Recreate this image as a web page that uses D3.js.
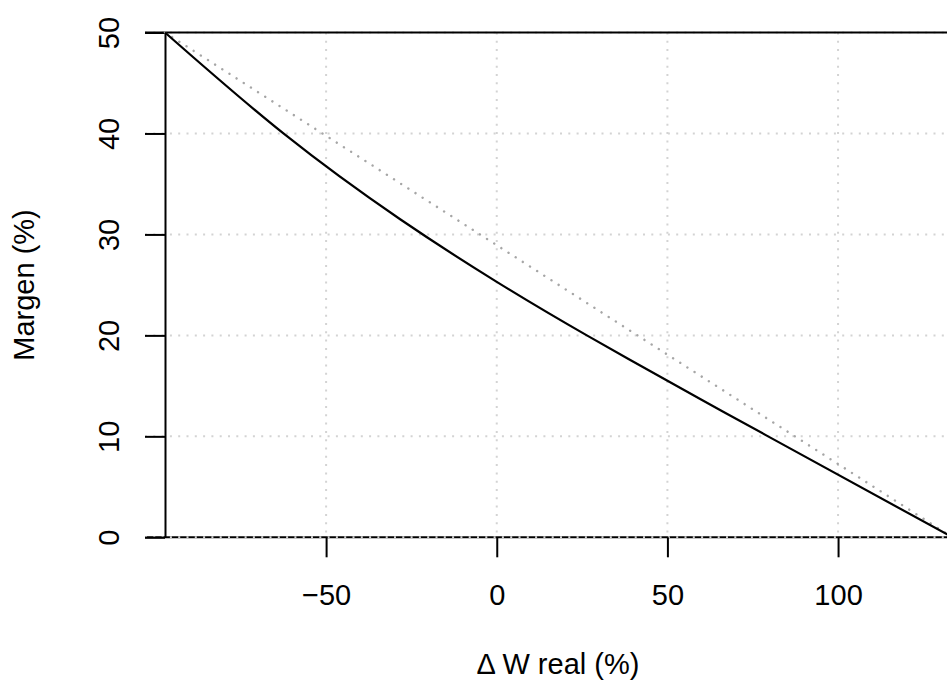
<!DOCTYPE html>
<html>
<head>
<meta charset="utf-8">
<script src="https://cdn.jsdelivr.net/npm/d3@7"></script>
<style>
  body { margin: 0; background: #fff; }
  svg { display: block; font-family: "Liberation Sans", Arial, Helvetica, sans-serif; }
  .axis text { font-size: 29px; fill: #000; }
  .axis line, .axis path { stroke: #000; stroke-width: 2; }
</style>
</head>
<body>
<svg id="chart"></svg>
<script>
// Values
const deltaW = [-97.2, -62.5, -28.3, 0, 26.4, 59.6, 79.5, 133.5];
const margen = [50, 40, 31.5, 25.3, 20, 13.7, 10, 0];

// straight reference line between the two end points
const refW = [-97.2, 133.5];
const refM = [50, 0];

const xTicks = [-50, 0, 50, 100];
const yTicks = [0, 10, 20, 30, 40, 50];
const hLinesBelow = [0];
const hLinesAbove = [50];

const xLabel = "\u0394 W real (%)";
const yLabel = "Margen (%)";

class MarginChart {

  constructor(_config) {
    this.config = {
      parentElement: _config.parentElement,
      containerWidth: _config.containerWidth || 947,
      containerHeight: _config.containerHeight || 681,
      margin: _config.margin || {top: 32.5, left: 165, bottom: 143.7},
      width: _config.width || 787.4
    };
    this.initVis();
  }

  initVis() {
    let vis = this;
    vis.height = vis.config.containerHeight - vis.config.margin.top - vis.config.margin.bottom;
    vis.width = vis.config.width;

    vis.xScale = d3.scaleLinear()
      .domain([refW[0], refW[1]])
      .range([0, vis.width]);

    vis.yScale = d3.scaleLinear()
      .domain([0, 50])
      .range([vis.height, 0]);

    vis.svg = d3.select(vis.config.parentElement)
      .attr('width', vis.config.containerWidth)
      .attr('height', vis.config.containerHeight);

    vis.chart = vis.svg.append('g')
      .attr('transform', `translate(${vis.config.margin.left},${vis.config.margin.top})`);
  }

  // black horizontal lines across the plot region
  drawHLines(values, cls) {
    let vis = this;
    vis.chart.selectAll('.' + cls)
      .data(values)
      .join('line')
      .attr('class', cls)
      .attr('x1', -20)
      .attr('x2', vis.config.containerWidth)
      .attr('y1', d => vis.yScale(d))
      .attr('y2', d => vis.yScale(d))
      .attr('stroke', '#000')
      .attr('stroke-width', 2);
  }

  renderVis() {
    let vis = this;
    const x = vis.xScale, y = vis.yScale;

    vis.drawHLines(hLinesBelow, 'hline-below');

    // dotted grid
    vis.chart.selectAll('.hgrid')
      .data(yTicks)
      .join('line')
      .attr('class', 'hgrid')
      .attr('x1', -20)
      .attr('x2', vis.config.containerWidth)
      .attr('y1', d => y(d))
      .attr('y2', d => y(d))
      .attr('stroke', '#d3d3d3')
      .attr('stroke-width', 2)
      .attr('stroke-dasharray', '2,6.3');

    vis.chart.selectAll('.vgrid')
      .data(xTicks)
      .join('line')
      .attr('class', 'vgrid')
      .attr('x1', d => x(d))
      .attr('x2', d => x(d))
      .attr('y1', y(50))
      .attr('y2', y(0))
      .attr('stroke', '#d3d3d3')
      .attr('stroke-width', 2)
      .attr('stroke-dasharray', '2,6.3');

    vis.drawHLines(hLinesAbove, 'hline-above');

    // y axis at the left end of the data
    const yAxisG = vis.chart.append('g')
      .attr('class', 'axis y-axis')
      .call(d3.axisLeft(y).tickValues(yTicks).tickSize(20).tickSizeOuter(0));
    yAxisG.selectAll('text')
      .attr('x', null)
      .attr('dy', null)
      .attr('text-anchor', 'middle')
      .attr('transform', 'translate(-46,0) rotate(-90)');

    // x axis, ticks only (line drawn by the h=0 line)
    const xAxisG = vis.chart.append('g')
      .attr('class', 'axis x-axis')
      .attr('transform', `translate(0,${vis.height})`)
      .call(d3.axisBottom(x).tickValues(xTicks).tickSize(20).tickPadding(27.5));
    xAxisG.select('.domain').remove();

    const line = d3.line()
      .x(d => x(d[0]))
      .y(d => y(d[1]));

    // reference straight line
    vis.chart.append('path')
      .datum(d3.zip(refW, refM))
      .attr('fill', 'none')
      .attr('stroke', '#a6a6a6')
      .attr('stroke-width', 2.4)
      .attr('stroke-linecap', 'round')
      .attr('stroke-dasharray', '0.1,8.4')
      .attr('d', line);

    // margin curve
    vis.chart.append('path')
      .datum(d3.zip(deltaW, margen))
      .attr('fill', 'none')
      .attr('stroke', '#000')
      .attr('stroke-width', 2.2)
      .attr('d', line.curve(d3.curveNatural));

    // axis titles
    vis.svg.append('text')
      .attr('x', 558)
      .attr('y', 674)
      .attr('text-anchor', 'middle')
      .attr('font-size', 29)
      .text(xLabel);

    vis.svg.append('text')
      .attr('transform', 'translate(34,285) rotate(-90)')
      .attr('text-anchor', 'middle')
      .attr('font-size', 29)
      .text(yLabel);
  }
}

const chart = new MarginChart({parentElement: '#chart'});
chart.renderVis();
</script>
</body>
</html>
